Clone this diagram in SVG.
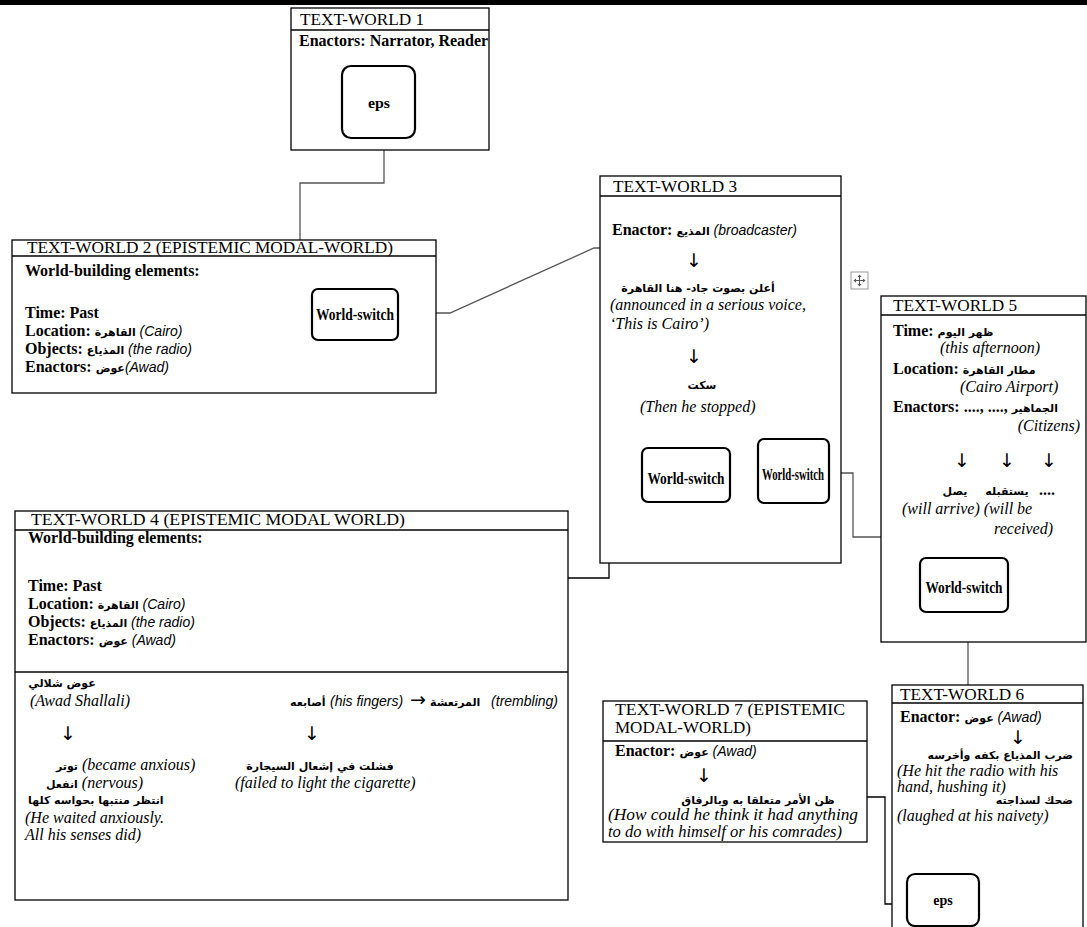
<svg xmlns="http://www.w3.org/2000/svg" width="1087" height="927" viewBox="0 0 1087 927">
<style>
.box{fill:#fff;stroke:#000;stroke-width:1.3}
.sep{stroke:#000;stroke-width:1.3}
.ws{fill:#fff;stroke:#000;stroke-width:2.2}
.conn{fill:none;stroke:#555;stroke-width:1.3}
.connk{fill:none;stroke:#000;stroke-width:1.3}
.ttl{font-family:"Liberation Serif",serif;font-size:17px}
.lb{font-family:"Liberation Serif",serif;font-size:16px;font-weight:bold}
.ar{font-family:"DejaVu Sans",sans-serif;font-size:11px;font-weight:bold}
.is{font-family:"Liberation Sans",sans-serif;font-size:14px;font-style:italic}
.it{font-family:"Liberation Serif",serif;font-size:16px;font-style:italic}
.wsx{font-family:"Liberation Serif",serif;font-size:17px;font-weight:bold}
.eps{font-family:"Liberation Serif",serif;font-size:14px;font-weight:bold}
.arw{font-family:"DejaVu Sans",sans-serif;font-size:19px}
</style>
<rect x="0" y="0" width="1087" height="5" fill="#000"/>

<g id="connectors">
<path class="conn" d="M384,120 V183 H300 V240"/>
<path class="conn" d="M398,313 H450 L594,248 H607"/>
<path class="connk" d="M648,478 H609 V578 H568"/>
<path class="conn" d="M826,473 H853 V537 H881"/>
<path class="conn" d="M968,600 V686"/>
<path class="connk" d="M867,797 H885 V904 H907"/>
</g>

<g id="tw1">
<rect class="box" x="291" y="8" width="198" height="142"/>
<line class="sep" x1="291" y1="30" x2="489" y2="30"/>
<text class="ttl" x="300" y="25" textLength="124" lengthAdjust="spacingAndGlyphs">TEXT-WORLD 1</text>
<text class="lb" x="299" y="46">Enactors: Narrator, Reader</text>
<rect class="ws" x="342" y="66" width="73" height="72" rx="9"/>
<text class="eps" x="379" y="108" text-anchor="middle" textLength="22" lengthAdjust="spacingAndGlyphs">eps</text>
</g>

<g id="tw2">
<rect class="box" x="12" y="240" width="424" height="153"/>
<line class="sep" x1="12" y1="256" x2="436" y2="256"/>
<text class="ttl" x="27" y="253" textLength="366" lengthAdjust="spacingAndGlyphs">TEXT-WORLD 2 (EPISTEMIC MODAL-WORLD)</text>
<text class="lb" x="25" y="276">World-building elements:</text>
<text class="lb" x="25" y="318">Time: Past</text>
<text x="25" y="336"><tspan class="lb">Location: </tspan><tspan class="ar">القاهرة</tspan><tspan class="is"> (Cairo)</tspan></text>
<text x="25" y="354"><tspan class="lb">Objects: </tspan><tspan class="ar">المذياع</tspan><tspan class="is"> (the radio)</tspan></text>
<text x="25" y="372"><tspan class="lb">Enactors:  </tspan><tspan class="ar">عوض</tspan><tspan class="is">(Awad)</tspan></text>
<rect class="ws" x="312" y="289" width="86" height="51" rx="6"/>
<text class="wsx" x="355" y="320" text-anchor="middle" textLength="78" lengthAdjust="spacingAndGlyphs">World-switch</text>
</g>

<g id="tw3">
<rect class="box" x="600" y="176" width="241" height="387"/>
<line class="sep" x1="600" y1="196" x2="841" y2="196"/>
<text class="ttl" x="613" y="192" textLength="124" lengthAdjust="spacingAndGlyphs">TEXT-WORLD 3</text>
<text x="612" y="235"><tspan class="lb">Enactor: </tspan><tspan class="ar">المذيع</tspan><tspan class="is"> (broadcaster)</tspan></text>
<text class="arw" x="694" y="267" text-anchor="middle">↓</text>
<text class="ar" x="698" y="292" text-anchor="middle">أعلن بصوت جاد- هنا القاهرة</text>
<text class="it" x="610" y="310">(announced in a serious voice,</text>
<text class="it" x="610" y="329">‘This is Cairo’)</text>
<text class="arw" x="694" y="363" text-anchor="middle">↓</text>
<text class="ar" x="702" y="389" text-anchor="middle">سكت</text>
<text class="it" x="640" y="412">(Then he stopped)</text>
<rect class="ws" x="642" y="448" width="88" height="54" rx="6"/>
<text class="wsx" x="686" y="484" text-anchor="middle" textLength="77" lengthAdjust="spacingAndGlyphs">World-switch</text>
<rect class="ws" x="758" y="439" width="71" height="64" rx="6"/>
<text class="wsx" x="793" y="480" text-anchor="middle" textLength="62" lengthAdjust="spacingAndGlyphs">World-switch</text>
</g>

<g id="movehandle">
<rect x="851" y="272" width="17" height="17" fill="#fff" stroke="#999" stroke-width="1"/>
<path d="M859.5,275.5 V285.5 M854.5,280.5 H864.5" stroke="#555" stroke-width="1"/>
<path d="M859.5,274.5 L857.5,277 H861.5 Z M859.5,286.5 L857.5,284 H861.5 Z M853.5,280.5 L856,278.5 V282.5 Z M865.5,280.5 L863,278.5 V282.5 Z" fill="#555"/>
</g>

<g id="tw5">
<rect class="box" x="881" y="296" width="205" height="346"/>
<line class="sep" x1="881" y1="315" x2="1086" y2="315"/>
<text class="ttl" x="893" y="311" textLength="124" lengthAdjust="spacingAndGlyphs">TEXT-WORLD 5</text>
<text x="893" y="336"><tspan class="lb">Time: </tspan><tspan class="ar">ظهر اليوم</tspan></text>
<text class="it" x="940" y="353">(this afternoon)</text>
<text x="893" y="374"><tspan class="lb">Location: </tspan><tspan class="ar">مطار القاهرة</tspan></text>
<text class="it" x="960" y="392">(Cairo Airport)</text>
<text x="893" y="412"><tspan class="lb">Enactors: ...., ...., </tspan><tspan class="ar">الجماهير</tspan></text>
<text class="it" x="1080" y="431" text-anchor="end">(Citizens)</text>
<text class="arw" x="962" y="467" text-anchor="middle">↓</text>
<text class="arw" x="1007" y="467" text-anchor="middle">↓</text>
<text class="arw" x="1049" y="467" text-anchor="middle">↓</text>
<text class="ar" x="955" y="495" text-anchor="middle">يصل</text>
<text class="ar" x="1007" y="495" text-anchor="middle">يستقبله</text>
<text class="lb" x="1047" y="495" text-anchor="middle">....</text>
<text class="it" x="902" y="514">(will arrive) (will be</text>
<text class="it" x="1053" y="534" text-anchor="end">received)</text>
<rect class="ws" x="920" y="558" width="88" height="54" rx="6"/>
<text class="wsx" x="964" y="593" text-anchor="middle" textLength="77" lengthAdjust="spacingAndGlyphs">World-switch</text>
</g>

<g id="tw4">
<rect class="box" x="15" y="511" width="553" height="389"/>
<line class="sep" x1="15" y1="530" x2="568" y2="530"/>
<line class="sep" x1="15" y1="672" x2="568" y2="672"/>
<text class="ttl" x="31" y="525" textLength="374" lengthAdjust="spacingAndGlyphs">TEXT-WORLD 4 (EPISTEMIC MODAL WORLD)</text>
<text class="lb" x="28" y="543">World-building elements:</text>
<text class="lb" x="28" y="591">Time: Past</text>
<text x="28" y="609"><tspan class="lb">Location: </tspan><tspan class="ar">القاهرة</tspan><tspan class="is"> (Cairo)</tspan></text>
<text x="28" y="627"><tspan class="lb">Objects: </tspan><tspan class="ar">المذياع</tspan><tspan class="is"> (the radio)</tspan></text>
<text x="28" y="645"><tspan class="lb">Enactors: </tspan><tspan class="ar">عوض</tspan><tspan class="is"> (Awad)</tspan></text>
<text class="ar" x="62" y="687" text-anchor="middle">عوض شلالي</text>
<text class="it" x="30" y="706">(Awad Shallali)</text>
<text class="arw" x="68" y="740" text-anchor="middle">↓</text>
<text x="56" y="770"><tspan class="ar">توتر</tspan><tspan class="it"> (became anxious)</tspan></text>
<text x="46" y="788"><tspan class="ar">انفعل</tspan><tspan class="it"> (nervous)</tspan></text>
<text class="ar" x="28" y="804">انتظر منتبها بحواسه كلها</text>
<text class="it" x="25" y="823">(He waited anxiously.</text>
<text class="it" x="25" y="840">All his senses did)</text>
<text class="ar" x="290" y="706">أصابعه</text>
<text class="is" x="330" y="706">(his fingers)</text>
<text class="arw" x="418" y="706" text-anchor="middle" font-size="14">→</text>
<text class="ar" x="430" y="706">المرتعشة</text>
<text class="is" x="558" y="706" text-anchor="end">(trembling)</text>
<text class="arw" x="312" y="740" text-anchor="middle">↓</text>
<text class="ar" x="320" y="770" text-anchor="middle">فشلت  في إشعال السيجارة</text>
<text class="it" x="235" y="788">(failed to light the cigarette)</text>
</g>

<g id="tw7">
<rect class="box" x="603" y="701" width="264" height="141"/>
<line class="sep" x1="603" y1="741" x2="867" y2="741"/>
<text class="ttl" x="615" y="715" textLength="230" lengthAdjust="spacingAndGlyphs">TEXT-WORLD 7 (EPISTEMIC</text>
<text class="ttl" x="615" y="733">MODAL-WORLD)</text>
<text x="615" y="756"><tspan class="lb">Enactor: </tspan><tspan class="ar">عوض</tspan><tspan class="is"> (Awad)</tspan></text>
<text class="arw" x="704" y="782" text-anchor="middle">↓</text>
<text class="ar" x="758" y="804" text-anchor="middle">ظن الأمر متعلقا به وبالرفاق</text>
<text class="it" x="608" y="820" textLength="250" lengthAdjust="spacingAndGlyphs">(How could he think it had anything</text>
<text class="it" x="608" y="837" textLength="234" lengthAdjust="spacingAndGlyphs">to do with himself or his comrades)</text>
</g>

<g id="tw6">
<rect class="box" x="892" y="685" width="191" height="250"/>
<line class="sep" x1="892" y1="703" x2="1083" y2="703"/>
<text class="ttl" x="900" y="700" textLength="124" lengthAdjust="spacingAndGlyphs">TEXT-WORLD 6</text>
<text x="900" y="722"><tspan class="lb">Enactor:  </tspan><tspan class="ar">عوض</tspan><tspan class="is"> (Awad)</tspan></text>
<text class="arw" x="1018" y="744" text-anchor="middle">↓</text>
<text class="ar" x="1073" y="759" text-anchor="end">ضرب المذياع بكفه وأخرسه</text>
<text class="it" x="897" y="776">(He hit the radio with his</text>
<text class="it" x="897" y="792">hand, hushing it)</text>
<text class="ar" x="1073" y="804" text-anchor="end">ضحك لسذاجته</text>
<text class="it" x="897" y="821">(laughed at his naivety)</text>
<rect class="ws" x="907" y="874" width="72" height="52" rx="8"/>
<text class="eps" x="943" y="905" text-anchor="middle">eps</text>
</g>
</svg>
